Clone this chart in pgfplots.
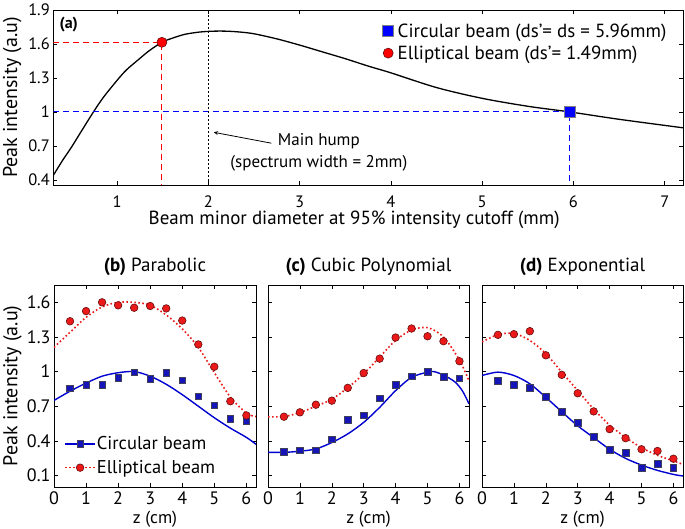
\documentclass[border=0pt]{standalone}
\usepackage{fontspec}
\setmainfont{PT Sans}
\usepackage{pgfplots}
\pgfplotsset{compat=1.18}
\definecolor{cblue}{rgb}{0,0,0.82}
\definecolor{mblue}{rgb}{0.08,0.08,0.72}
\definecolor{cred}{rgb}{0.92,0.1,0.1}
\definecolor{edgeb}{rgb}{0.25,0.25,0.35}
\definecolor{edger}{rgb}{0.4,0.05,0.05}
\newcommand{\fs}[1]{\fontsize{#1}{#1}\selectfont}
\begin{document}
\begin{tikzpicture}[x=1pt,y=1pt]
\useasboundingbox (0,0) rectangle (685,528);
\pgfplotsset{every axis/.append style={
  /pgf/number format/assume math mode=true, scale only axis,
  major tick length=4pt, tick style={black,line width=0.6pt},
  axis line style={black,line width=0.8pt}},
  sq/.style={only marks, mark=square*, mark size=3.3pt, mark options={fill=mblue, draw=edgeb, line width=0.5pt}},
  ci/.style={only marks, mark=*, mark size=3.8pt, mark options={fill=cred, draw=edger, line width=0.6pt}},
  reddot/.style={cred, line width=1.6pt, dash pattern=on 1.6pt off 2.4pt},
  bottom/.style={anchor=south west, height=202pt,
  xmin=0, xmax=6.3, ymin=0, ymax=1.75,
  xtick={0,1,2,3,4,5,6}, ytick={0.1,0.4,0.7,1,1.3,1.6},
  tick label style={font=\fs{18}},
  xticklabel style={anchor=center, yshift=-11.5pt, inner sep=0pt},
  xlabel={z (cm)},
  xlabel style={font=\fs{17.5}, at={(axis description cs:0.5,0)}, anchor=center, yshift=-32pt, inner sep=0pt},
  ylabel style={font=\fs{20}, at={(axis description cs:-0.2054,0.5)}, anchor=center},
  title style={font=\fs{19}, at={(axis description cs:0.5,1)}, anchor=center, yshift=12pt}}}
% ---------------- (a)
\begin{axis}[at={(53.3pt,343pt)}, anchor=south west, width=629.7pt, height=175pt,
  xmin=0.3, xmax=7.2, ymin=0.355, ymax=1.9,
  xtick={1,2,3,4,5,6,7}, ytick={0.4,0.7,1,1.3,1.6,1.9},
  tick label style={font=\fs{16.5}},
  xticklabel style={anchor=center, yshift=-16.5pt},
  xlabel={Beam minor diameter at 95\% intensity cutoff (mm)},
  ylabel={Peak intensity (a.u)},
  xlabel style={font=\fs{19}, at={(axis description cs:0.5,0)}, anchor=center, yshift=-35pt, xshift=-14pt},
  ylabel style={font=\fs{20}, at={(axis description cs:-0.0651,0.5)}, anchor=center},
  legend style={at={(0.5228,0.935)}, anchor=north west, draw=none, fill=none, inner sep=0pt,
    row sep=3pt, font=\fs{19}, nodes={inner xsep=4pt}},
  legend cell align=left]
\addplot[black, line width=1.3pt, smooth, forget plot] coordinates {
(0.3,0.44) (0.4,0.57) (0.5,0.69) (0.6,0.82) (0.74,1.00) (0.85,1.13) (1.0,1.28)
(1.1,1.37) (1.23,1.46) (1.35,1.54) (1.49,1.615) (1.6,1.65) (1.74,1.685) (1.9,1.705)
(2.05,1.713) (2.2,1.713) (2.35,1.705) (2.5,1.69) (2.75,1.645) (3.0,1.59) (3.25,1.53)
(3.5,1.47) (3.75,1.405) (4.0,1.345) (4.5,1.215) (5.0,1.12) (5.5,1.05) (5.96,1.0)
(6.5,0.935) (7.2,0.86)};
\addplot[red, line width=1pt, dash pattern=on 6pt off 4pt, forget plot] coordinates {(0.3,1.615) (1.49,1.615) (1.49,0.355)};
\addplot[blue, line width=1pt, dash pattern=on 6pt off 4pt, forget plot] coordinates {(0.3,1.0) (5.96,1.0) (5.96,0.355)};
\addplot[black, line width=1pt, dash pattern=on 2pt off 2pt, forget plot] coordinates {(2,0.355) (2,1.9)};
\addplot[only marks, mark=square*, mark size=5.5pt, mark options={fill=blue, draw=gray, line width=0.6pt}] coordinates {(5.96,1.0)};
\addlegendentry{Circular beam (ds’= ds = 5.96mm)}
\addplot[only marks, mark=*, mark size=5pt, mark options={fill=red, draw=edger, line width=0.6pt}] coordinates {(1.49,1.615)};
\addlegendentry{Elliptical beam (ds’= 1.49mm)}
\draw[-stealth, line width=0.8pt] (axis cs:2.69,0.724) -- (axis cs:2.06,0.82);
\node[align=center, font=\fs{17}] at (axis cs:3.21,0.645) {Main hump\\[5pt](spectrum width = 2mm)};
\node[anchor=west, font=\fs{16}\bfseries] at (axis cs:0.33,1.77) {(a)};
\end{axis}
% ---------------- (b)
\begin{axis}[bottom, at={(54pt,41pt)}, width=202pt,
  ylabel={Peak intensity (a.u)},
  title={\textbf{(b)} Parabolic},
  legend style={at={(0.05,0.26)}, anchor=north west, draw=none, fill=none, inner sep=0pt,
    row sep=5pt, font=\fs{18.5}, nodes={inner xsep=1pt}},
  legend image code/.code={\draw[mark repeat=2, mark phase=2, #1] plot coordinates {(0pt,0pt) (15pt,0pt) (30pt,0pt)};},
  legend cell align=left]
\addlegendimage{cblue, line width=1.4pt, mark=square*, mark size=3.3pt, mark options={solid, fill=mblue, draw=edgeb, line width=0.5pt}}
\addlegendentry{Circular beam}
\addlegendimage{reddot, mark=*, mark size=3.8pt, mark options={solid, fill=cred, draw=edger, line width=0.6pt}}
\addlegendentry{Elliptical beam}
\addplot[cblue, line width=1.4pt, smooth, forget plot] coordinates {
(0,0.75) (0.5,0.83) (1,0.90) (1.5,0.96) (2,0.99) (2.5,1.0) (3,0.96) (3.5,0.89)
(4,0.80) (4.5,0.70) (5,0.60) (5.5,0.51) (6,0.43) (6.3,0.37)};
\addplot[reddot, smooth, forget plot] coordinates {
(0,1.21) (0.5,1.34) (1,1.47) (1.5,1.56) (2,1.60) (2.5,1.60) (3,1.575) (3.5,1.49)
(4,1.37) (4.5,1.21) (5,0.99) (5.5,0.78) (6,0.64) (6.3,0.61)};
\addplot[sq, forget plot] coordinates {
(0.5,0.854) (1,0.884) (1.5,0.884) (2,0.948) (2.5,0.995) (3,0.939) (3.5,0.989)
(4,0.925) (4.5,0.787) (5,0.708) (5.5,0.591) (6,0.568)};
\addplot[ci, forget plot] coordinates {
(0.5,1.436) (1,1.524) (1.5,1.60) (2,1.574) (2.5,1.553) (3,1.568) (3.5,1.547)
(4,1.442) (4.5,1.235) (5,1.042) (5.5,0.743) (6,0.62)};
\end{axis}
% ---------------- (c)
\begin{axis}[bottom, at={(268pt,41pt)}, width=201pt, yticklabels={},
  title={\textbf{(c)} Cubic Polynomial}]
\addplot[cblue, line width=1.4pt, smooth] coordinates {
(0,0.30) (0.5,0.30) (1,0.31) (1.5,0.33) (2,0.385) (2.5,0.46) (3,0.56) (3.5,0.69)
(4,0.835) (4.5,0.95) (5,0.995) (5.2,1.0) (5.5,0.97) (5.86,0.91) (6.1,0.83) (6.3,0.72)};
\addplot[reddot, smooth] coordinates {
(0,0.609) (0.5,0.61) (1,0.645) (1.5,0.70) (2,0.76) (2.5,0.86) (3,0.98) (3.5,1.126)
(4,1.27) (4.5,1.36) (5,1.38) (5.5,1.30) (6,1.10) (6.3,0.92)};
\addplot[sq] coordinates {
(0.5,0.303) (1,0.318) (1.5,0.318) (2,0.414) (2.5,0.583) (3,0.623) (3.5,0.769)
(4,0.888) (4.5,0.96) (5,1.001) (5.5,0.957) (6,0.943)};
\addplot[ci] coordinates {
(0.5,0.609) (1,0.647) (1.5,0.713) (2,0.748) (2.5,0.859) (3,0.987) (3.5,1.112)
(4,1.295) (4.5,1.373) (5,1.306) (5.5,1.263) (6,1.09)};
\end{axis}
% ---------------- (d)
\begin{axis}[bottom, at={(482pt,41pt)}, width=201pt, yticklabels={},
  title={\textbf{(d)} Exponential}]
\addplot[cblue, line width=1.4pt, smooth] coordinates {
(0,0.966) (0.5,0.995) (1,0.966) (1.5,0.894) (2,0.777) (2.5,0.652) (3,0.53) (3.5,0.428)
(4,0.327) (4.5,0.248) (5,0.19) (5.5,0.144) (6,0.109) (6.3,0.095)};
\addplot[reddot, smooth] coordinates {
(0,1.257) (0.5,1.32) (1,1.33) (1.5,1.27) (2,1.155) (2.5,0.995) (3,0.835) (3.5,0.675)
(4,0.536) (4.5,0.43) (5,0.34) (5.5,0.275) (6,0.225) (6.3,0.196)};
\addplot[sq] coordinates {
(0.5,0.923) (1,0.885) (1.5,0.859) (2,0.783) (2.5,0.652) (3,0.559) (3.5,0.434)
(4,0.324) (4.5,0.295) (5,0.167) (5.5,0.202) (6,0.167)};
\addplot[ci] coordinates {
(0.5,1.318) (1,1.324) (1.5,1.35) (2,1.141) (2.5,0.972) (3,0.812) (3.5,0.655)
(4,0.501) (4.5,0.423) (5,0.327) (5.5,0.312) (6,0.245)};
\end{axis}
\end{tikzpicture}
\end{document}
